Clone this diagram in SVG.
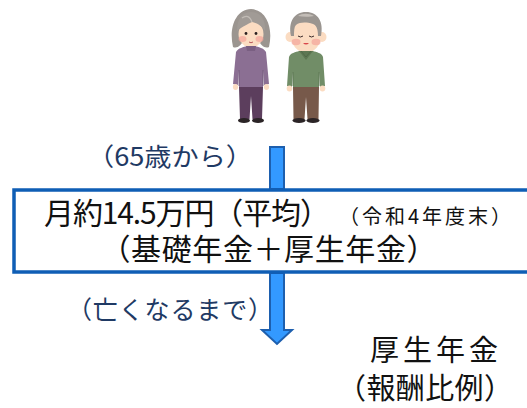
<svg xmlns="http://www.w3.org/2000/svg" width="527" height="408" viewBox="0 0 527 408">
  <style>
    .jp { font-family: "Noto Sans CJK JP", "Noto Sans", sans-serif; }
    .note { fill: #1f3a64; font-size: 25px; }
    .main { fill: #111111; font-size: 30px; }
    .small { fill: #111111; font-size: 20px; }
    .side { fill: #111111; font-size: 29px; }
    .arrow { fill: #3399ff; stroke: #1d5fae; stroke-width: 2; stroke-linejoin: miter; }
    .box { fill: #ffffff; stroke: #0f5eb5; stroke-width: 3.5; }
    .skin { fill: #fbdcc2; }
    .cheek { fill: #f4a49a; opacity: 0.7; }
    .shoe { fill: #2b2426; }
  </style>

  <rect width="527" height="408" fill="#ffffff"/>

  <!-- elderly couple -->
  <g id="couple">
    <g id="woman">
      <!-- hair (back) -->
      <path d="M233,47 C229,30 234,10 251,9 C268,10 273,30 269,47 C265,49 260,45 259,40 L243,40 C242,45 237,49 233,47 Z" fill="#9b9590"/>
      <!-- face -->
      <ellipse class="skin" cx="251" cy="34" rx="12.5" ry="13.5"/>
      <ellipse class="cheek" cx="242.5" cy="39" rx="4" ry="3"/>
      <ellipse class="cheek" cx="259.5" cy="39" rx="4" ry="3"/>
      <!-- bangs -->
      <path d="M237,31 C237,18 243,12 251,12 C259,12 266,18 265,31 C261,25 256,23 252,22 C248,24 243,26 237,31 Z" fill="#a19b96"/>
      <path d="M242,18 C246,15 250,16 252,22" fill="none" stroke="#c2bcb6" stroke-width="1.2"/>
      <circle cx="246" cy="33.5" r="1.4" fill="#2a2020"/>
      <circle cx="256" cy="33.5" r="1.4" fill="#2a2020"/>
      <path d="M249,42 Q251,43.5 253,42" fill="none" stroke="#b8585a" stroke-width="1"/>
      <!-- sweater -->
      <path d="M236,52 C238,48 244,47 247,46 L255,46 C258,47 264,48 266,52 L269,84 L264,85 L263,70 L263,88 L239,88 L239,70 L238,85 L233,84 Z" fill="#8b6f93"/>
      <path d="M246,46 L256,46 L255,51 L247,51 Z" fill="#7a5f82"/>
      <path d="M239,70 L239,86 M263,70 L263,86" stroke="#6f5777" stroke-width="0.8"/>
      <!-- hands -->
      <ellipse class="skin" cx="235.5" cy="87" rx="2.6" ry="3"/>
      <ellipse class="skin" cx="266.5" cy="87" rx="2.6" ry="3"/>
      <!-- trousers -->
      <path d="M239,87 L263,87 L262,119 L252.5,119 L251,96 L249.5,119 L240,119 Z" fill="#5c3e5d"/>
      <!-- shoes -->
      <ellipse class="shoe" cx="244" cy="120.5" rx="6" ry="2.5"/>
      <ellipse class="shoe" cx="258" cy="120.5" rx="6" ry="2.5"/>
    </g>

    <g id="man">
      <!-- ears -->
      <ellipse class="skin" cx="290" cy="37" rx="4.5" ry="5"/>
      <ellipse class="skin" cx="322" cy="37" rx="4.5" ry="5"/>
      <!-- face -->
      <ellipse class="skin" cx="306" cy="36" rx="15" ry="16.5"/>
      <ellipse class="cheek" cx="296" cy="42" rx="4.5" ry="3.2"/>
      <ellipse class="cheek" cx="316" cy="42" rx="4.5" ry="3.2"/>
      <!-- hair -->
      <path d="M291,36 C288,22 294,12 306,12 C318,12 324,22 321,36 L318,36 C318,28 316,25 313,24 C306,22 300,22 296,25 C294,27 294,31 294,36 Z" fill="#9a9590"/>
      <path d="M298,16 C302,13 309,13 314,16 C310,17 303,17 298,16 Z" fill="#c3bdb7"/>
      <!-- closed eyes, mouth -->
      <path d="M298,36 Q300.5,38 303,36 M309,36 Q311.5,38 314,36" fill="none" stroke="#3a2a2a" stroke-width="1"/>
      <path d="M303,43 Q306,46 309,43 Z" fill="#d9474b"/>
      <!-- sweater -->
      <path d="M289,57 C290,53 296,52 299,51 L313,51 C316,52 322,53 323,57 L325,86 L320,87 L319,72 L319,88 L293,88 L293,72 L292,87 L287,86 Z" fill="#718d67"/>
      <path d="M299,51 L313,51 L306,60 Z" fill="#5d7753"/>
      <path d="M301,51 L306,57 L311,51" fill="none" stroke="#4d6645" stroke-width="0.8"/>
      <path d="M293,72 L293,86 M319,72 L319,86" stroke="#5b7451" stroke-width="0.8"/>
      <!-- hands -->
      <ellipse class="skin" cx="289.5" cy="88.5" rx="2.8" ry="3"/>
      <ellipse class="skin" cx="322.5" cy="88.5" rx="2.8" ry="3"/>
      <!-- trousers -->
      <path d="M293,87 L319,87 L318.5,119 L307.5,119 L306,97 L304.5,119 L293.5,119 Z" fill="#77594a"/>
      <!-- shoes -->
      <ellipse class="shoe" cx="299" cy="120.5" rx="6.5" ry="2.5"/>
      <ellipse class="shoe" cx="313" cy="120.5" rx="6.5" ry="2.5"/>
    </g>
  </g>

  <!-- flow arrows -->
  <g id="connectors">
    <rect class="arrow" x="270" y="147" width="14" height="42"/>
    <polygon class="arrow" points="270,273 284,273 284,330 292,330 277,344 262,330 270,330"/>
  </g>

  <g id="label-start">
    <text class="jp note" x="170" y="166" text-anchor="middle" textLength="166" lengthAdjust="spacingAndGlyphs">（65歳から）</text>
  </g>

  <g id="pension-box">
    <rect class="box" x="14" y="190" width="530" height="82"/>
    <text class="jp main" x="44" y="224" textLength="286" lengthAdjust="spacing">月約14.5万円（平均）</text>
    <text class="jp small" x="425" y="224" text-anchor="middle" textLength="172" lengthAdjust="spacing">（令和4年度末）</text>
    <text class="jp main" x="268.5" y="260" text-anchor="middle" textLength="336" lengthAdjust="spacing">（基礎年金＋厚生年金）</text>
  </g>

  <g id="label-end">
    <text class="jp note" x="170" y="319" text-anchor="middle" textLength="206" lengthAdjust="spacing">（亡くなるまで）</text>
  </g>

  <g id="kosei-nenkin">
    <text class="jp side" x="434" y="361" text-anchor="middle" textLength="128" lengthAdjust="spacing">厚生年金</text>
    <text class="jp side" x="425" y="399" text-anchor="middle" textLength="176" lengthAdjust="spacing">（報酬比例）</text>
  </g>
</svg>
